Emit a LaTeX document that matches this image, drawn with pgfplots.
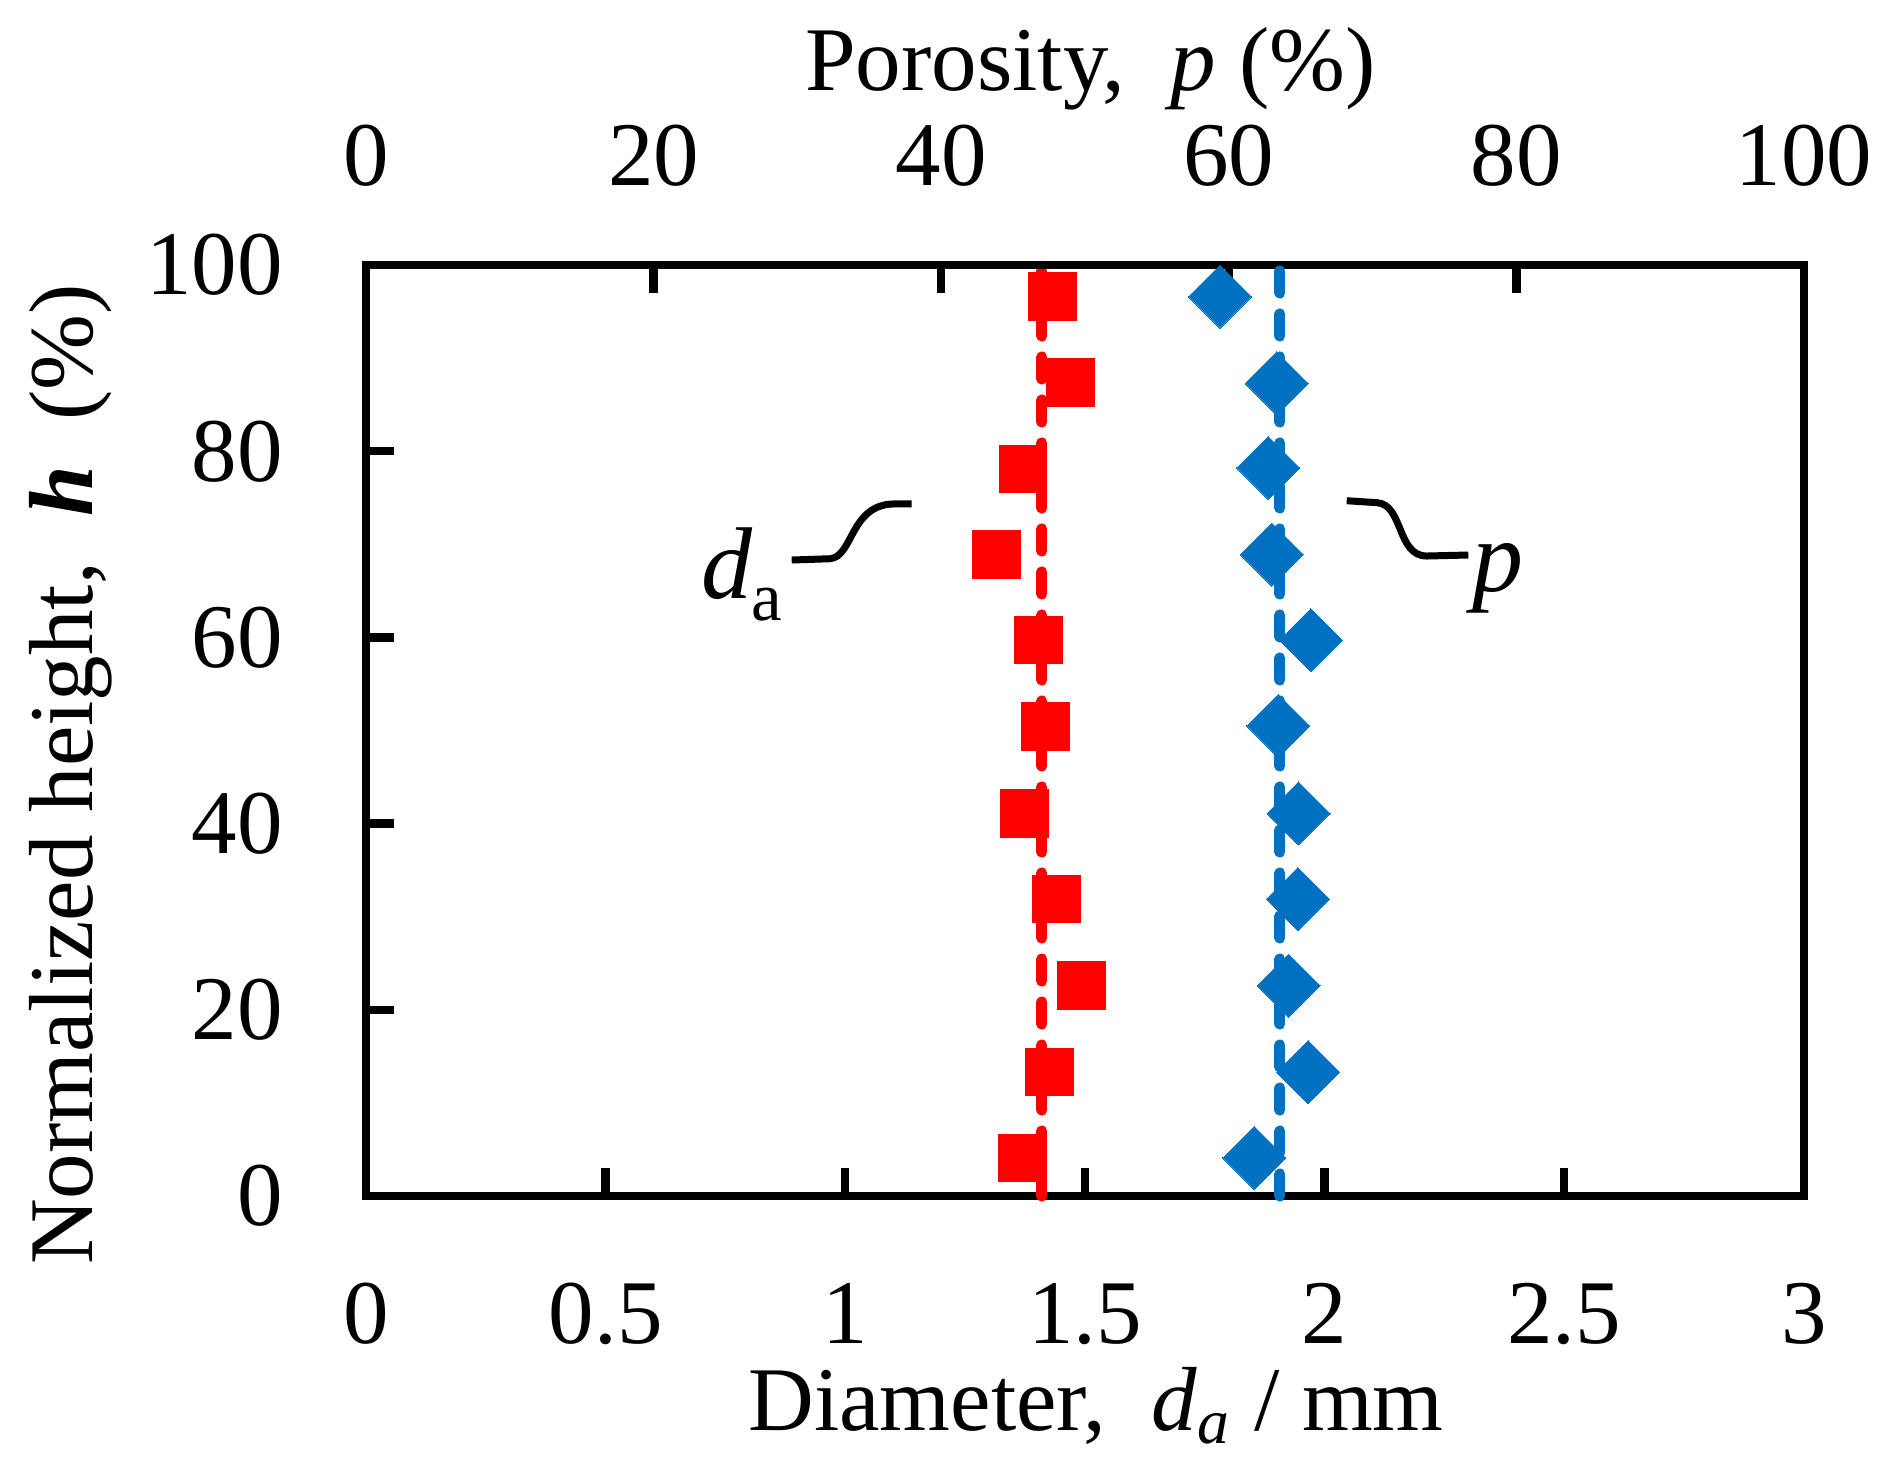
\documentclass[border=0pt]{standalone}
\usepackage{fontspec}
\setmainfont{Liberation Serif}
\usepackage{pgfplots}
\pgfplotsset{compat=1.18}
\definecolor{myred}{RGB}{255,0,0}
\definecolor{myblue}{RGB}{0,112,192}
\begin{document}
\fontsize{22.75pt}{27pt}\selectfont
\begin{tikzpicture}
\useasboundingbox (-91.5pt,-68.25pt) rectangle (380.25pt,299pt);
\begin{axis}[
  at={(0pt,0pt)}, anchor=south west,
  scale only axis, width=359.5pt, height=232.75pt,
  xmin=0, xmax=3, ymin=0, ymax=100,
  xtick={0,0.5,1,1.5,2,2.5,3}, ytick={0,20,40,60,80,100},
  xtick pos=bottom, ytick pos=left,
  tick align=inside,
  major tick length=7pt,
  every tick/.style={black, line width=2.08pt},
  axis line style={line width=2.08pt},
  /pgf/number format/assume math mode=true,
  xticklabel style={anchor=north, inner sep=0pt, yshift=-21.65pt},
  yticklabel style={anchor=east, inner sep=0pt, xshift=-20.6pt},
  xlabel={Diameter,~~\textit{d}\textsubscript{\textit{a}} / mm},
  ylabel={Normalized height,~~\textbf{\textit{h}}~~(\%)},
  xlabel style={at={(axis description cs:0.5077,-0.2524)}, anchor=base, inner sep=0pt},
  ylabel style={at={(axis description cs:-0.1905,0.4527)}, anchor=base, inner sep=0pt},
  clip=false,
]
\addplot[myred, line width=2.75pt, line cap=round, dash pattern=on 5.5pt off 5.25pt] coordinates {(1.41,0) (1.41,100)};
\addplot[only marks, mark=square*, mark size=5.95pt, mark options={solid, fill=myred, draw=myred, line width=0pt}] coordinates {
(1.4326,96.6) (1.4693,87.4) (1.3703,78.1) (1.3153,68.9) (1.4030,59.7) (1.4176,50.4)
(1.3738,41.1) (1.4406,31.9) (1.4927,22.6) (1.4260,13.3) (1.3696,4.1)
};
\draw[line width=1.75pt] (axis cs:0.8881,68.31) -- (axis cs:0.9680,68.45) .. controls (axis cs:1.0166,68.67) and (axis cs:1.0097,74.22) .. (axis cs:1.1001,74.33) -- (axis cs:1.1384,74.33);
\node[anchor=base west, inner sep=0pt, font=\fontsize{25.5pt}{30pt}\selectfont] at (axis cs:0.6989,64.23) {\textit{d}\kern-0.5pt\raisebox{-5.5pt}{\fontsize{17.25pt}{20pt}\selectfont a}};
\draw[line width=1.75pt] (axis cs:2.0460,74.68) -- (axis cs:2.1086,74.47) .. controls (axis cs:2.1641,74.33) and (axis cs:2.1503,68.74) .. (axis cs:2.2129,68.74) -- (axis cs:2.2997,68.85);
\node[anchor=base west, inner sep=0pt, font=\fontsize{25.5pt}{30pt}\selectfont] at (axis cs:2.3074,64.88) {\textit{p}};
\end{axis}
\begin{axis}[
  at={(0pt,0pt)}, anchor=south west,
  scale only axis, width=359.5pt, height=232.75pt,
  xmin=0, xmax=100, ymin=0, ymax=100,
  axis x line*=top, axis y line=none,
  xtick={0,20,40,60,80,100}, ytick=\empty,
  tick align=inside,
  major tick length=7pt,
  every tick/.style={black, line width=2.08pt},
  axis line style={line width=2.08pt},
  /pgf/number format/assume math mode=true,
  xticklabel style={anchor=south, inner sep=0pt, yshift=19.4pt},
  xlabel={Porosity,~~\textit{p} (\%)},
  xlabel style={at={(axis description cs:0.5038,1.1869)}, anchor=base, inner sep=0pt},
  clip=false,
]
\addplot[myblue, line width=2.75pt, line cap=round, dash pattern=on 5.5pt off 5.25pt] coordinates {(63.56,0) (63.56,100)};
\addplot[only marks, mark=square*, mark size=5.57pt, mark options={solid, rotate=45, fill=myblue, draw=myblue, line width=0pt}] coordinates {
(59.39,96.6) (63.33,87.3) (62.75,78.2) (63.00,68.9) (65.70,59.7) (63.44,50.5)
(64.85,41.1) (64.80,31.9) (64.17,22.6) (65.52,13.3) (61.77,4.1)
};
\end{axis}
\end{tikzpicture}
\end{document}
